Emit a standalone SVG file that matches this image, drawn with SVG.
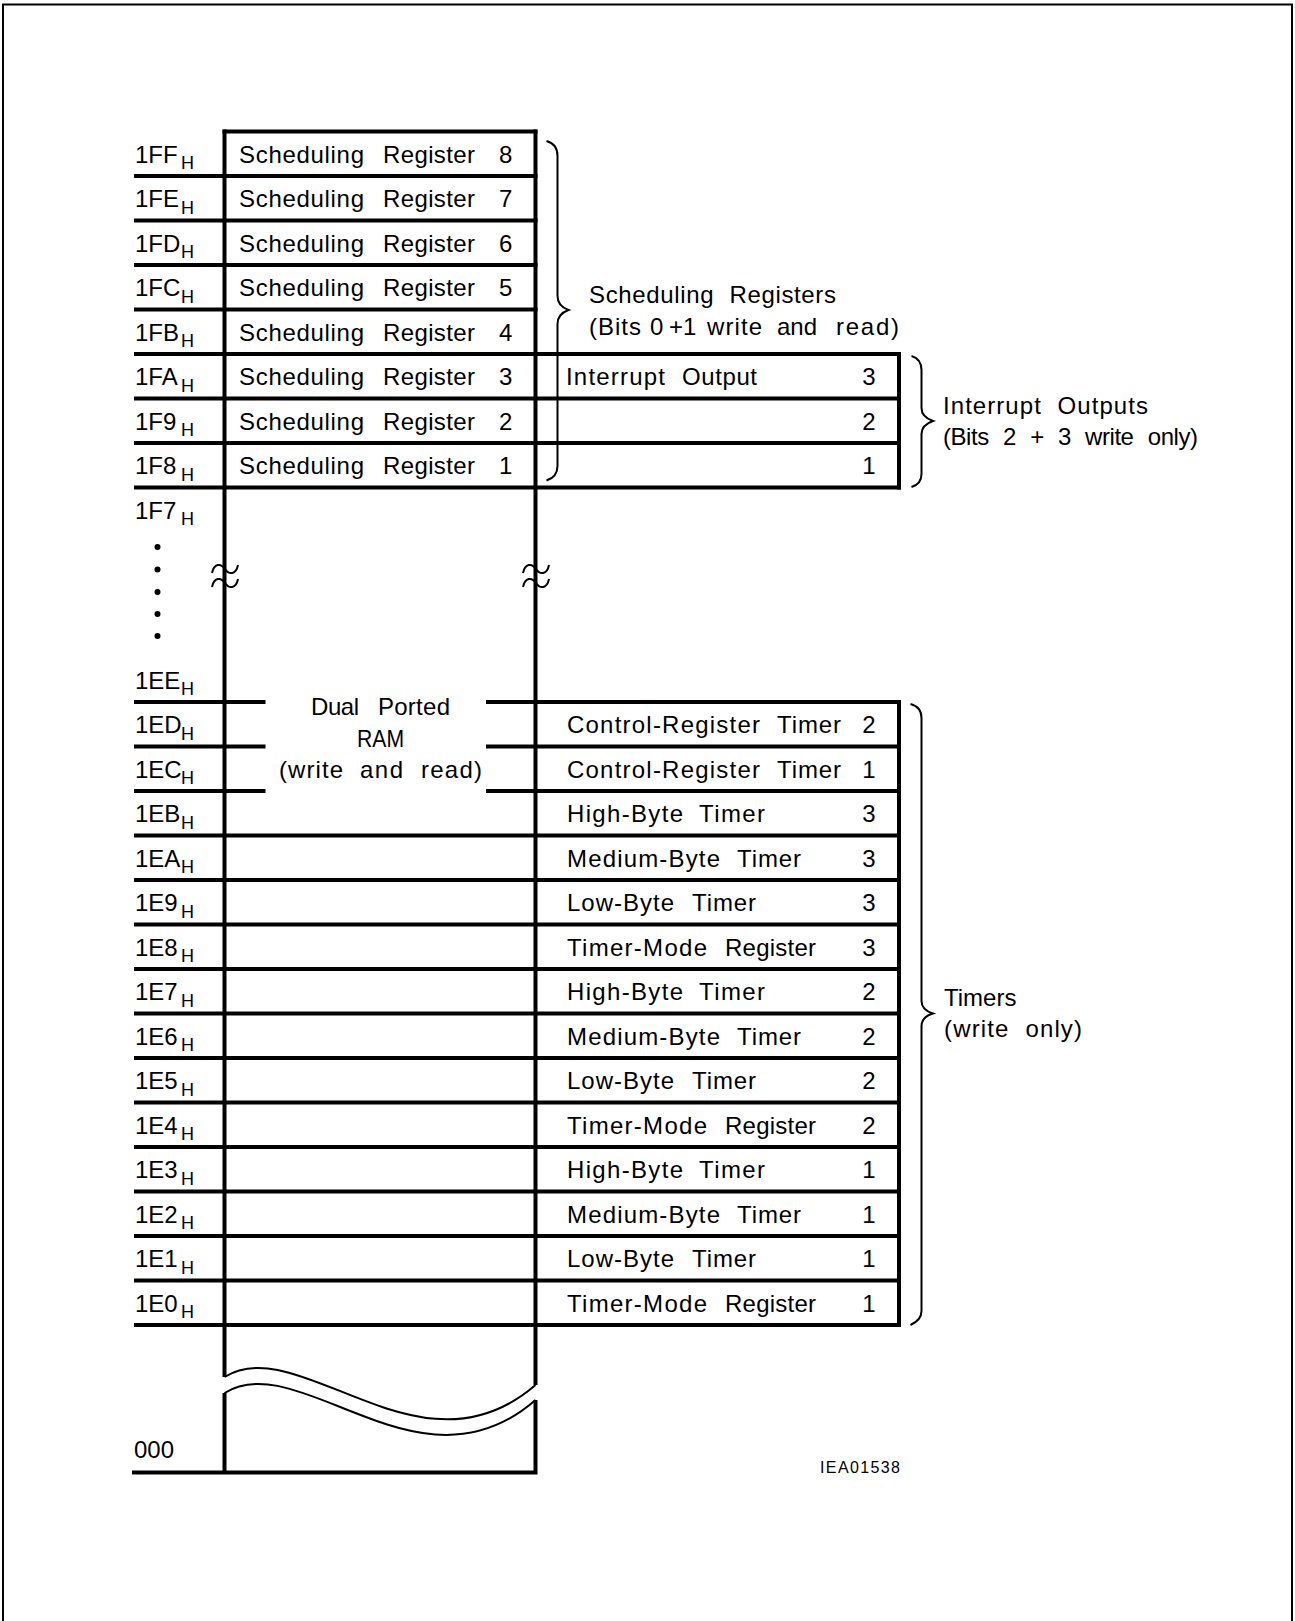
<svg xmlns="http://www.w3.org/2000/svg" width="1295" height="1621" viewBox="0 0 1295 1621">
<style>
.t{font-family:"Liberation Sans",Arial,sans-serif;font-size:24px;fill:#000}
.s{font-family:"Liberation Sans",Arial,sans-serif;font-size:18px;fill:#000}
.id{font-family:"Liberation Sans",Arial,sans-serif;font-size:16px;fill:#000}
.n{text-anchor:middle}
.ln{stroke:#000;stroke-width:4;fill:none;stroke-linecap:square}
.bt{stroke:#000;stroke-width:4;fill:none}
.th{stroke:#000;stroke-width:2;fill:none}
.ws{word-spacing:8px}
</style>
<rect width="1295" height="1621" fill="#fff"/>
<path class="th" d="M3,1630 V4.5 H1292 V1630"/>

<g id="grid">
<path class="ln" d="M224.5,131.5 H535.5"/>
<path class="bt" d="M134,176 H537.5 M134,220.5 H537.5 M134,265 H537.5 M134,309.5 H537.5"/>
<path class="bt" d="M134,354 H901 M134,398.5 H901 M134,443 H901 M134,487.5 H901"/>
<path class="ln" d="M899,354 V487.5"/>
<path class="bt" d="M134,702 H265.5 M486,702 H901 M134,746.5 H265.5 M486,746.5 H901 M134,791 H265.5 M486,791 H901"/>
<path class="bt" d="M134,835.5 H901 M134,880 H901 M134,924.5 H901 M134,969 H901 M134,1013.5 H901 M134,1058 H901 M134,1102.5 H901 M134,1147 H901 M134,1191.5 H901 M134,1236 H901 M134,1280.5 H901 M134,1325 H901"/>
<path class="ln" d="M899,702 V1325"/>
<path class="bt" d="M224.5,129.5 V1377 M535.5,129.5 V1385"/>
<path class="bt" d="M224.5,1393 V1472.5 M535.5,1400 V1472.5 M132,1472.5 H537.5"/>
<path class="th" d="M224.5,1377 C300,1330 420,1485 535.5,1385"/>
<path class="th" d="M224.5,1393 C300,1346 420,1501 535.5,1400"/>
<path class="th" d="M212,573 C214,563 221,563 225,569 C229,575 236,575 238,565 M212,587 C214,577 221,577 225,583 C229,589 236,589 238,579"/>
<path class="th" d="M523,573 C525,563 532,563 536,569 C540,575 547,575 549,565 M523,587 C525,577 532,577 536,583 C540,589 547,589 549,579"/>
<circle cx="157.5" cy="547" r="3"/>
<circle cx="157.5" cy="569.5" r="3"/>
<circle cx="157.5" cy="592" r="3"/>
<circle cx="157.5" cy="614" r="3"/>
<circle cx="157.5" cy="636" r="3"/>
</g>

<g id="addresses">
<text class="t" x="135" y="162.5">1FF<tspan class="s" x="181" y="169">H</tspan></text>
<text class="t" x="135" y="207">1FE<tspan class="s" x="181" y="213.5">H</tspan></text>
<text class="t" x="135" y="251.5">1FD<tspan class="s" x="181" y="258">H</tspan></text>
<text class="t" x="135" y="296">1FC<tspan class="s" x="181" y="302.5">H</tspan></text>
<text class="t" x="135" y="340.5">1FB<tspan class="s" x="181" y="347">H</tspan></text>
<text class="t" x="135" y="385">1FA<tspan class="s" x="181" y="391.5">H</tspan></text>
<text class="t" x="135" y="429.5">1F9<tspan class="s" x="181" y="436">H</tspan></text>
<text class="t" x="135" y="474">1F8<tspan class="s" x="181" y="480.5">H</tspan></text>
<text class="t" x="135" y="518.5">1F7<tspan class="s" x="181" y="525">H</tspan></text>
<text class="t" x="135" y="688.5">1EE<tspan class="s" x="181" y="695">H</tspan></text>
<text class="t" x="135" y="733">1ED<tspan class="s" x="181" y="739.5">H</tspan></text>
<text class="t" x="135" y="777.5">1EC<tspan class="s" x="181" y="784">H</tspan></text>
<text class="t" x="135" y="822">1EB<tspan class="s" x="181" y="828.5">H</tspan></text>
<text class="t" x="135" y="866.5">1EA<tspan class="s" x="181" y="873">H</tspan></text>
<text class="t" x="135" y="911">1E9<tspan class="s" x="181" y="917.5">H</tspan></text>
<text class="t" x="135" y="955.5">1E8<tspan class="s" x="181" y="962">H</tspan></text>
<text class="t" x="135" y="1000">1E7<tspan class="s" x="181" y="1006.5">H</tspan></text>
<text class="t" x="135" y="1044.5">1E6<tspan class="s" x="181" y="1051">H</tspan></text>
<text class="t" x="135" y="1089">1E5<tspan class="s" x="181" y="1095.5">H</tspan></text>
<text class="t" x="135" y="1133.5">1E4<tspan class="s" x="181" y="1140">H</tspan></text>
<text class="t" x="135" y="1178">1E3<tspan class="s" x="181" y="1184.5">H</tspan></text>
<text class="t" x="135" y="1222.5">1E2<tspan class="s" x="181" y="1229">H</tspan></text>
<text class="t" x="135" y="1267">1E1<tspan class="s" x="181" y="1273.5">H</tspan></text>
<text class="t" x="135" y="1311.5">1E0<tspan class="s" x="181" y="1318">H</tspan></text>
<text class="t" x="134" y="1458">000</text>
</g>

<g id="sched-8"><text class="t" y="162.5"><tspan x="239" textLength="125">Scheduling</tspan> <tspan x="383" textLength="92">Register</tspan> <tspan x="499">8</tspan></text></g>
<g id="sched-7"><text class="t" y="207"><tspan x="239" textLength="125">Scheduling</tspan> <tspan x="383" textLength="92">Register</tspan> <tspan x="499">7</tspan></text></g>
<g id="sched-6"><text class="t" y="251.5"><tspan x="239" textLength="125">Scheduling</tspan> <tspan x="383" textLength="92">Register</tspan> <tspan x="499">6</tspan></text></g>
<g id="sched-5"><text class="t" y="296"><tspan x="239" textLength="125">Scheduling</tspan> <tspan x="383" textLength="92">Register</tspan> <tspan x="499">5</tspan></text></g>
<g id="sched-4"><text class="t" y="340.5"><tspan x="239" textLength="125">Scheduling</tspan> <tspan x="383" textLength="92">Register</tspan> <tspan x="499">4</tspan></text></g>
<g id="sched-3"><text class="t" y="385"><tspan x="239" textLength="125">Scheduling</tspan> <tspan x="383" textLength="92">Register</tspan> <tspan x="499">3</tspan></text></g>
<g id="sched-2"><text class="t" y="429.5"><tspan x="239" textLength="125">Scheduling</tspan> <tspan x="383" textLength="92">Register</tspan> <tspan x="499">2</tspan></text></g>
<g id="sched-1"><text class="t" y="474"><tspan x="239" textLength="125">Scheduling</tspan> <tspan x="383" textLength="92">Register</tspan> <tspan x="499">1</tspan></text></g>

<g id="int-3"><text class="t" y="385"><tspan x="566" textLength="99">Interrupt</tspan> <tspan x="682" textLength="75">Output</tspan></text><text class="t n" x="869" y="385">3</text></g>
<g id="int-2"><text class="t n" x="869" y="429.5">2</text></g>
<g id="int-1"><text class="t n" x="869" y="474">1</text></g>

<g id="dual-ram">
<text class="t" y="714.5"><tspan x="311" textLength="48">Dual</tspan> <tspan x="378" textLength="72">Ported</tspan></text>
<text class="t" x="357" y="746.5" textLength="47" lengthAdjust="spacingAndGlyphs">RAM</text>
<text class="t" y="777.5"><tspan x="279" textLength="64">(write</tspan> <tspan x="360" textLength="43">and</tspan> <tspan x="421" textLength="61">read)</tspan></text>
</g>

<g id="ctrl-2"><text class="t" y="733"><tspan x="567" textLength="193">Control-Register</tspan> <tspan x="777" textLength="64">Timer</tspan></text><text class="t n" x="869" y="733">2</text></g>
<g id="ctrl-1"><text class="t" y="777.5"><tspan x="567" textLength="193">Control-Register</tspan> <tspan x="777" textLength="64">Timer</tspan></text><text class="t n" x="869" y="777.5">1</text></g>
<g id="hb-3"><text class="t" y="822"><tspan x="567" textLength="116">High-Byte</tspan> <tspan x="699" textLength="66">Timer</tspan></text><text class="t n" x="869" y="822">3</text></g>
<g id="mb-3"><text class="t" y="866.5"><tspan x="567" textLength="153">Medium-Byte</tspan> <tspan x="737" textLength="64">Timer</tspan></text><text class="t n" x="869" y="866.5">3</text></g>
<g id="lb-3"><text class="t" y="911"><tspan x="567" textLength="107">Low-Byte</tspan> <tspan x="692" textLength="64">Timer</tspan></text><text class="t n" x="869" y="911">3</text></g>
<g id="tm-3"><text class="t" y="955.5"><tspan x="567" textLength="140">Timer-Mode</tspan> <tspan x="725" textLength="91">Register</tspan></text><text class="t n" x="869" y="955.5">3</text></g>
<g id="hb-2"><text class="t" y="1000"><tspan x="567" textLength="116">High-Byte</tspan> <tspan x="699" textLength="66">Timer</tspan></text><text class="t n" x="869" y="1000">2</text></g>
<g id="mb-2"><text class="t" y="1044.5"><tspan x="567" textLength="153">Medium-Byte</tspan> <tspan x="737" textLength="64">Timer</tspan></text><text class="t n" x="869" y="1044.5">2</text></g>
<g id="lb-2"><text class="t" y="1089"><tspan x="567" textLength="107">Low-Byte</tspan> <tspan x="692" textLength="64">Timer</tspan></text><text class="t n" x="869" y="1089">2</text></g>
<g id="tm-2"><text class="t" y="1133.5"><tspan x="567" textLength="140">Timer-Mode</tspan> <tspan x="725" textLength="91">Register</tspan></text><text class="t n" x="869" y="1133.5">2</text></g>
<g id="hb-1"><text class="t" y="1178"><tspan x="567" textLength="116">High-Byte</tspan> <tspan x="699" textLength="66">Timer</tspan></text><text class="t n" x="869" y="1178">1</text></g>
<g id="mb-1"><text class="t" y="1222.5"><tspan x="567" textLength="153">Medium-Byte</tspan> <tspan x="737" textLength="64">Timer</tspan></text><text class="t n" x="869" y="1222.5">1</text></g>
<g id="lb-1"><text class="t" y="1267"><tspan x="567" textLength="107">Low-Byte</tspan> <tspan x="692" textLength="64">Timer</tspan></text><text class="t n" x="869" y="1267">1</text></g>
<g id="tm-1"><text class="t" y="1311.5"><tspan x="567" textLength="140">Timer-Mode</tspan> <tspan x="725" textLength="91">Register</tspan></text><text class="t n" x="869" y="1311.5">1</text></g>

<g id="connectors">
<path class="th" d="M546.5,141 Q557.5,144 557.5,156 V296 Q557.5,306 568.5,310 Q557.5,314 557.5,324 V466 Q557.5,477 546.5,480.5"/>
<path class="th" d="M911.5,356 Q921.5,359 921.5,370 V408 Q921.5,417 933,421 Q921.5,425 921.5,434 V474 Q921.5,484 911.5,487"/>
<path class="th" d="M910.5,704 Q921.5,707 921.5,718 V1001 Q921.5,1010 933,1013.5 Q921.5,1017 921.5,1026 V1311 Q921.5,1320 910.5,1325"/>
</g>

<g id="label-sched">
<text class="t ws" x="589" y="303" textLength="247">Scheduling Registers</text>
<text class="t" y="335"><tspan x="589" textLength="52">(Bits</tspan> <tspan x="650">0</tspan> <tspan x="669">+1</tspan> <tspan x="707" textLength="55">write</tspan> <tspan x="777" textLength="40">and</tspan> <tspan x="836" textLength="63">read)</tspan></text>
</g>
<g id="label-int">
<text class="t ws" x="943" y="413.5" textLength="205">Interrupt Outputs</text>
<text class="t ws" x="943" y="445" textLength="255">(Bits 2 + 3 write only)</text>
</g>
<g id="label-timers">
<text class="t" x="944" y="1006">Timers</text>
<text class="t ws" x="944" y="1037" textLength="138">(write only)</text>
</g>
<g id="figure-id">
<text class="id" x="820" y="1472.5" textLength="80">IEA01538</text>
</g>
</svg>
